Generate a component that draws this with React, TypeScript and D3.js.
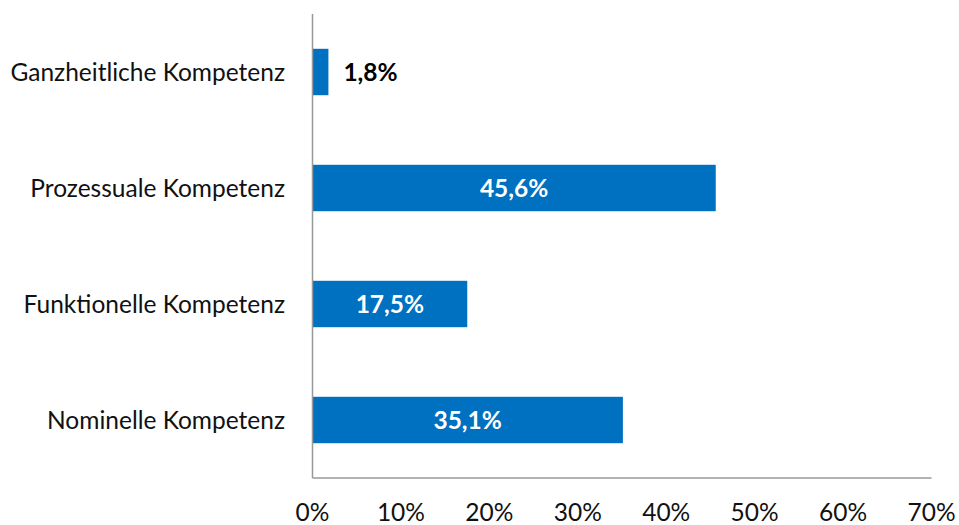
import React from "react";
import * as d3 from "d3";

const categories = ["Ganzheitliche Kompetenz", "Prozessuale Kompetenz", "Funktionelle Kompetenz", "Nominelle Kompetenz"];
const values = [1.8, 45.6, 17.5, 35.1];
const ticks = [0, 10, 20, 30, 40, 50, 60, 70];

const W = 959, H = 525;
const left = 312.5, right = 931.5, top = 14, bottom = 478;
const font = "Lato, 'Open Sans', sans-serif";
const fs = 24.5;

export default function App() {
  const x = d3.scaleLinear().domain([0, 70]).range([left, right]);
  const y = d3.scaleBand().domain(categories).range([top, bottom]).paddingInner(0.6).paddingOuter(0.3);
  const fmt = (v: number) => v.toFixed(1).replace(".", ",") + "%";
  return (
    <svg width={W} height={H} style={{ position: "absolute", left: 0, top: 0, background: "#fff" }}>
      {categories.map((c, i) => {
        const yy = y(c)!;
        const bw = x(values[i]) - x(0);
        const inside = bw > 60;
        return (
          <g key={c}>
            <rect x={x(0)} y={yy} width={bw} height={y.bandwidth()} fill="#0070C0" />
            <text x={285} y={yy + y.bandwidth() / 2} dy="0.35em" textAnchor="end" fontFamily={font} fontSize={fs} fill="#111">{c}</text>
            <text
              x={inside ? x(0) + bw / 2 : x(values[i]) + 15}
              y={yy + y.bandwidth() / 2}
              dy="0.35em"
              textAnchor={inside ? "middle" : "start"}
              fontFamily={font}
              fontWeight="bold"
              fontSize={fs}
              fill={inside ? "#fff" : "#000"}
            >{fmt(values[i])}</text>
          </g>
        );
      })}
      <line x1={left} x2={left} y1={top} y2={bottom} stroke="#999" strokeWidth={1.5} />
      <line x1={left} x2={right} y1={bottom} y2={bottom} stroke="#999" strokeWidth={1.5} />
      {ticks.map(t => (
        <text key={t} x={x(t)} y={512} dy="0.35em" textAnchor="middle" fontFamily={font} fontSize={fs} fill="#111">{t}%</text>
      ))}
    </svg>
  );
}
